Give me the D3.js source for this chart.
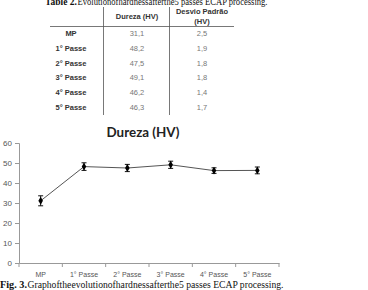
<!DOCTYPE html>
<html>
<head>
<meta charset="utf-8">
<script src="https://cdn.jsdelivr.net/npm/d3@7"></script>
<style>
  body { margin: 0; background: #fff; }
  svg { display: block; }
</style>
</head>
<body>
<div id="chart"></div>
<script>
// Data
var categories = ["MP", "1° Passe", "2° Passe", "3° Passe", "4° Passe", "5° Passe"];
var hardness = [31.1, 48.2, 47.5, 49.1, 46.2, 46.3];
var stdDev = [2.5, 1.9, 1.8, 1.8, 1.4, 1.7];
var yTicks = [0, 10, 20, 30, 40, 50, 60];

var svgWidth = 368;
var svgHeight = 290;

var svg = d3.select("#chart")
    .append("svg")
    .attr("width", svgWidth)
    .attr("height", svgHeight);

var fmt = d => d3.format(".1f")(d).replace(".", ",");

// Caption helper: bold label + regular text, each fitted to a width
function caption(x, y, label, labelW, rest, restW) {
    svg.append("text")
        .attr("x", x).attr("y", y)
        .attr("font-family", "Liberation Serif, Times New Roman, serif")
        .attr("font-size", "10.5px")
        .attr("font-weight", "bold")
        .attr("textLength", labelW)
        .attr("lengthAdjust", "spacingAndGlyphs")
        .attr("fill", "#111")
        .text(label);
    svg.append("text")
        .attr("x", x + labelW + 0.5).attr("y", y)
        .attr("font-family", "Liberation Serif, Times New Roman, serif")
        .attr("font-size", "10.5px")
        .attr("textLength", restW)
        .attr("lengthAdjust", "spacingAndGlyphs")
        .attr("fill", "#111")
        .text(rest);
}

// Table caption (cut off at the top, as in the source)
caption(45, 5, "Table 2.", 32, "Evolutionofhardnessafterthe5 passes ECAP processing.", 190);

// Table
var table = svg.append("g").attr("font-family", "Liberation Sans, Arial, sans-serif");
var rowY = d3.scalePoint().domain(categories).range([33, 107]);
var col = { label: 71, val: 137, dev: 202 };

table.append("line")
    .attr("x1", 50).attr("x2", 234)
    .attr("y1", 26.5).attr("y2", 26.5)
    .attr("stroke", "#555").attr("stroke-width", 0.8);
[103.5, 169.5].forEach(function(x) {
    table.append("line")
        .attr("x1", x).attr("x2", x)
        .attr("y1", 7).attr("y2", 115)
        .attr("stroke", "#555").attr("stroke-width", 0.8);
});

table.append("text")
    .attr("x", col.val).attr("y", 19)
    .attr("text-anchor", "middle")
    .attr("font-size", "7.5px").attr("font-weight", "bold").attr("fill", "#333")
    .text("Dureza (HV)");
table.append("text")
    .attr("x", col.dev).attr("y", 14)
    .attr("text-anchor", "middle")
    .attr("font-size", "7.5px").attr("font-weight", "bold").attr("fill", "#333")
    .text("Desvio Padrão");
table.append("text")
    .attr("x", col.dev).attr("y", 24)
    .attr("text-anchor", "middle")
    .attr("font-size", "7.5px").attr("font-weight", "bold").attr("fill", "#333")
    .text("(HV)");

var rows = table.selectAll("g.row")
    .data(categories)
    .enter()
    .append("g")
    .attr("transform", d => `translate(0, ${rowY(d) + 3})`);

rows.append("text")
    .attr("x", col.label)
    .attr("text-anchor", "middle")
    .attr("font-size", "7.5px").attr("font-weight", "bold").attr("fill", "#333")
    .text(d => d);
rows.append("text")
    .attr("x", col.val)
    .attr("text-anchor", "middle")
    .attr("font-size", "7.5px").attr("fill", "#777")
    .text((d, i) => fmt(hardness[i]));
rows.append("text")
    .attr("x", col.dev)
    .attr("text-anchor", "middle")
    .attr("font-size", "7.5px").attr("fill", "#777")
    .text((d, i) => fmt(stdDev[i]));

// Chart
var margin = { top: 143, left: 19 };
var height = 263 - margin.top;

var chartGroup = svg.append("g")
    .attr("transform", `translate(${margin.left}, ${margin.top})`);

var xScale = d3.scaleBand().domain(categories).range([0, 260]);
var yScale = d3.scaleLinear().domain([0, 60]).range([height, 0]);

var bottomAxis = d3.axisBottom(xScale).tickSize(0).tickPadding(9);
var leftAxis = d3.axisLeft(yScale).tickValues(yTicks).tickSize(4).tickPadding(3);

var yAxisG = chartGroup.append("g").call(leftAxis);
yAxisG.select(".domain").attr("stroke", "#999");
yAxisG.selectAll(".tick line").attr("stroke", "#999");
yAxisG.selectAll(".tick text")
    .attr("font-family", "Liberation Sans, Arial, sans-serif")
    .attr("font-size", "8px").attr("fill", "#555");

var xAxisG = chartGroup.append("g")
    .attr("transform", `translate(0, ${height})`)
    .call(bottomAxis);
xAxisG.select(".domain").attr("stroke", "#999");
xAxisG.selectAll(".tick text")
    .attr("font-family", "Liberation Sans, Arial, sans-serif")
    .attr("font-size", "7px").attr("fill", "#555");
// boundary ticks between categories
xAxisG.selectAll("line.bound")
    .data(categories.concat(["end"]))
    .enter()
    .append("line")
    .attr("class", "bound")
    .attr("x1", (d, i) => i * xScale.step())
    .attr("x2", (d, i) => i * xScale.step())
    .attr("y1", 0).attr("y2", 4)
    .attr("stroke", "#999");

var cx = d => xScale(d) + xScale.bandwidth() / 2;

// Line
var line = d3.line()
    .x((d, i) => cx(categories[i]))
    .y(d => yScale(d));
chartGroup.append("path")
    .datum(hardness)
    .attr("d", line)
    .attr("fill", "none")
    .attr("stroke", "#555")
    .attr("stroke-width", 1);

// Error bars
var err = chartGroup.selectAll("g.err")
    .data(categories)
    .enter()
    .append("g");
err.append("line")
    .attr("x1", d => cx(d)).attr("x2", d => cx(d))
    .attr("y1", (d, i) => yScale(hardness[i] + stdDev[i]))
    .attr("y2", (d, i) => yScale(hardness[i] - stdDev[i]))
    .attr("stroke", "#111").attr("stroke-width", 1);
err.append("line")
    .attr("x1", d => cx(d) - 2.5).attr("x2", d => cx(d) + 2.5)
    .attr("y1", (d, i) => yScale(hardness[i] + stdDev[i]))
    .attr("y2", (d, i) => yScale(hardness[i] + stdDev[i]))
    .attr("stroke", "#111").attr("stroke-width", 1);
err.append("line")
    .attr("x1", d => cx(d) - 2.5).attr("x2", d => cx(d) + 2.5)
    .attr("y1", (d, i) => yScale(hardness[i] - stdDev[i]))
    .attr("y2", (d, i) => yScale(hardness[i] - stdDev[i]))
    .attr("stroke", "#111").attr("stroke-width", 1);

// Markers
chartGroup.selectAll("path.marker")
    .data(categories)
    .enter()
    .append("path")
    .attr("d", d3.symbol().type(d3.symbolDiamond).size(18))
    .attr("transform", (d, i) => `translate(${cx(d)}, ${yScale(hardness[i])})`)
    .attr("fill", "#000");

// Chart title
svg.append("text")
    .attr("x", 143)
    .attr("y", 137)
    .attr("text-anchor", "middle")
    .attr("font-family", "Lato, Open Sans, sans-serif")
    .attr("font-weight", "bold")
    .attr("font-size", "14px")
    .attr("textLength", 73)
    .attr("lengthAdjust", "spacingAndGlyphs")
    .attr("fill", "#222")
    .text("Dureza (HV)");

// Figure caption
caption(0, 288, "Fig. 3.", 27, "Graphoftheevolutionofhardnessafterthe5 passes ECAP processing.", 256);
</script>
</body>
</html>
